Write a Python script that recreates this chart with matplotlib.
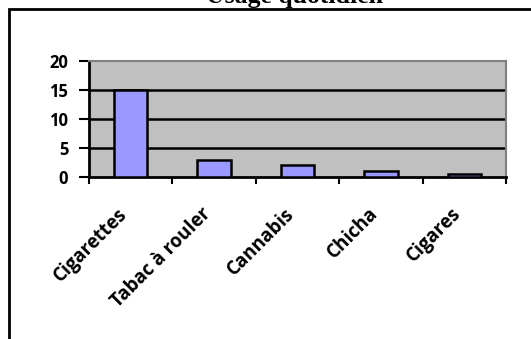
import matplotlib.pyplot as plt
from matplotlib.patches import Rectangle
from matplotlib.transforms import ScaledTranslation

# Daily usage by product
categories = ['Cigarettes', 'Tabac à rouler', 'Cannabis', 'Chicha', 'Cigares']
values = [15, 3, 2, 1, 0.5]
yticks = [0, 5, 10, 15, 20]

W, H = 531, 339
fig = plt.figure(figsize=(W / 100, H / 100), dpi=100)

# outer frame, open to the right and bottom
fig.patches.append(Rectangle((9 / W, -0.1), 1.2, (H - 9.5) / H + 0.1,
                             transform=fig.transFigure, fill=False,
                             edgecolor='black', linewidth=2))

fig.text(295 / W, 1 - 3 / H, 'Usage quotidien', ha='center', va='baseline',
         fontsize=18.5, fontweight='bold', family='Liberation Serif')

ax = fig.add_axes([89 / W, 1 - 177 / H, (506 - 89) / W, (177 - 61) / H])
ax.set_facecolor('#C0C0C0')

x = range(len(categories))
ax.bar(x, values, width=0.4, color='#9999FF', edgecolor='black',
       linewidth=1.8, zorder=3)

ax.set_xlim(-0.5, len(categories) - 0.5)
ax.set_ylim(0, 20)
ax.set_yticks(yticks)
for v in yticks[1:-1]:
    ax.axhline(v, color='black', linewidth=1.8, zorder=2)

# ticks between categories, labels rotated under each bar
ax.set_xticks([i - 0.5 for i in range(len(categories) + 1)])
ax.set_xticklabels([])
ax.tick_params(axis='x', direction='out', length=5, width=1.5)
shift = ScaledTranslation(-0.06, -0.34, fig.dpi_scale_trans)
for i, name in zip(x, categories):
    ax.text(i, 0, name, transform=ax.get_xaxis_transform() + shift,
            rotation=45, rotation_mode='anchor', ha='right', va='center',
            fontsize=13.5, fontweight='bold', family='Open Sans')

ax.tick_params(axis='y', direction='out', length=7, width=1.5, pad=8)
for lab in ax.get_yticklabels():
    lab.set_fontweight('bold')
    lab.set_fontsize(12)
    lab.set_family('Open Sans')

for side in ['left', 'bottom']:
    ax.spines[side].set_linewidth(2)
for side in ['top', 'right']:
    ax.spines[side].set_color('#808080')
    ax.spines[side].set_linewidth(1.5)

fig.savefig('out.png', dpi=100)
